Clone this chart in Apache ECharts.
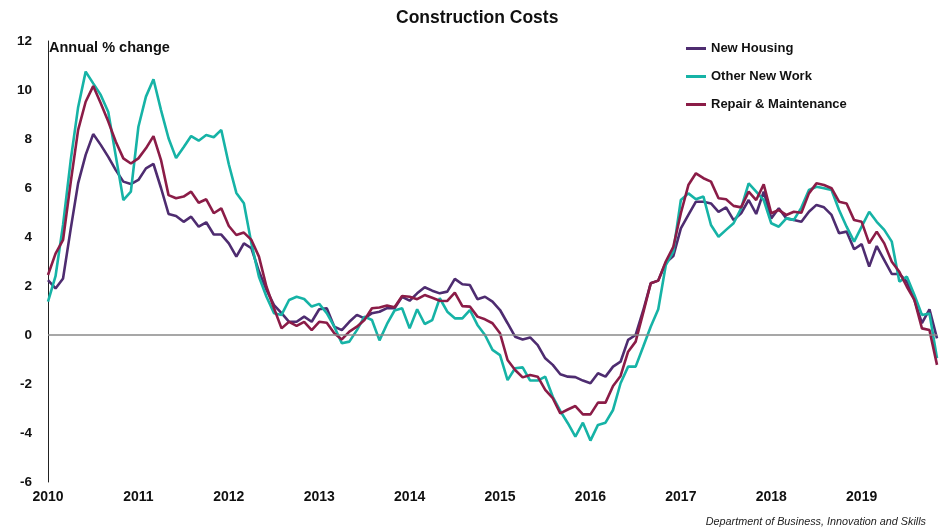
<!DOCTYPE html>
<html lang="en">
<head>
    <meta charset="UTF-8">
    <title>Construction Costs</title>
    <script src="https://cdn.jsdelivr.net/npm/echarts@6/dist/echarts.min.js"></script>
    <style>
        html,body{
            margin: 0;
            height: 100%;
        }
    </style>
</head>
<body>
<!--chart container-->
<div id="main" style="width: 944px;height: 528px"></div>
<script>
    // x axis: monthly from Jan 2010 to Nov 2019, labelled at each January
    var years = ['2010','2011','2012','2013','2014','2015','2016','2017','2018','2019'];
    var monthsInLastYear = 11;

    // annual % change
    var newHousing = [
        2.24, 1.9, 2.31, 4.3, 6.2, 7.35, 8.2, 7.76, 7.27, 6.73, 6.26, 6.16,
        6.33, 6.8, 6.98, 6.0, 4.94, 4.86, 4.62, 4.83, 4.42, 4.6, 4.1, 4.1,
        3.74, 3.2, 3.74, 3.54, 2.6, 1.84, 1.22, 0.89, 0.54, 0.54, 0.75, 0.54,
        1.05, 1.09, 0.34, 0.2, 0.54, 0.82, 0.68, 0.89, 0.95, 1.1, 1.09, 1.56,
        1.4, 1.7, 1.95, 1.81, 1.7, 1.77, 2.29, 2.07, 2.04, 1.46, 1.56, 1.36,
        1.02, 0.48, -0.07, -0.18, -0.1, -0.41, -0.95, -1.22, -1.6, -1.7, -1.72, -1.86,
        -1.97, -1.56, -1.7, -1.29, -1.09, -0.2, 0, 1.0, 2.11, 2.22, 2.95, 3.22,
        4.35, 4.9, 5.44, 5.44, 5.37, 5.03, 5.21, 4.69, 4.97, 5.51, 4.94, 5.85,
        4.76, 5.17, 4.76, 4.69, 4.62, 5.03, 5.31, 5.21, 4.9, 4.15, 4.22, 3.5,
        3.71, 2.79, 3.63, 3.06, 2.49, 2.49, 2.18, 1.43, 0.48, 1.05, -0.14
    ];
    var otherNewWork = [
        1.36, 2.4, 4.5, 7.1, 9.3, 10.75, 10.27, 9.8, 9.1, 7.3, 5.51, 5.85,
        8.5, 9.73, 10.44, 9.18, 8.03, 7.22, 7.66, 8.12, 7.93, 8.16, 8.07, 8.37,
        6.97, 5.8, 5.38, 3.74, 2.38, 1.56, 0.89, 0.82, 1.43, 1.56, 1.47, 1.16,
        1.27, 0.89, 0.34, -0.34, -0.27, 0.2, 0.75, 0.61, -0.22, 0.45, 1.0, 1.09,
        0.27, 1.05, 0.45, 0.61, 1.5, 0.95, 0.68, 0.68, 1.02, 0.41, 0, -0.61,
        -0.82, -1.84, -1.36, -1.32, -1.86, -1.86, -1.7, -2.52, -3.1, -3.6, -4.15, -3.58,
        -4.31, -3.67, -3.58, -3.06, -1.97, -1.29, -1.29, -0.48, 0.34, 1.05, 2.85, 3.4,
        5.51, 5.78, 5.54, 5.65, 4.49, 4.01, 4.29, 4.56, 5.17, 6.19, 5.85, 5.51,
        4.56, 4.42, 4.76, 4.7, 5.2, 5.92, 6.05, 5.99, 5.92, 5.1, 4.42, 3.81,
        4.42, 5.03, 4.62, 4.29, 3.81, 2.18, 2.38, 1.63, 0.82, 0.88, -0.95
    ];
    var repairMaintenance = [
        2.45, 3.32, 3.88, 6.2, 8.37, 9.52, 10.16, 9.46, 8.71, 7.89, 7.21, 7.0,
        7.21, 7.62, 8.12, 7.14, 5.71, 5.58, 5.65, 5.85, 5.4, 5.54, 4.97, 5.17,
        4.45, 4.08, 4.18, 3.88, 3.2, 1.97, 1.09, 0.27, 0.54, 0.37, 0.54, 0.2,
        0.54, 0.5, 0.07, -0.18, 0.14, 0.34, 0.61, 1.09, 1.12, 1.2, 1.13, 1.59,
        1.56, 1.46, 1.63, 1.52, 1.4, 1.39, 1.73, 1.18, 1.16, 0.75, 0.64, 0.48,
        0.07, -1.02, -1.43, -1.73, -1.63, -1.7, -2.24, -2.58, -3.2, -3.04, -2.9, -3.24,
        -3.24, -2.76, -2.76, -2.08, -1.67, -0.68, -0.27, 0.9, 2.11, 2.22, 3.0, 3.6,
        4.97, 6.12, 6.6, 6.4, 6.26, 5.58, 5.54, 5.27, 5.21, 5.85, 5.51, 6.15,
        4.97, 5.1, 4.9, 5.03, 4.99, 5.78, 6.19, 6.12, 5.99, 5.44, 5.37, 4.69,
        4.62, 3.74, 4.22, 3.74, 2.99, 2.58, 1.97, 1.43, 0.27, 0.2, -1.22
    ];

    // month categories built from the year list
    var months = [];
    for (var y = 0; y < years.length; y++) {
        var n = (y === years.length - 1) ? monthsInLastYear : 12;
        for (var m = 1; m <= n; m++) {
            months.push(years[y] + '-' + (m < 10 ? '0' + m : m));
        }
    }

    var myChart = echarts.init(document.getElementById('main'));
    var font = '"Liberation Sans", Arial, sans-serif';

    var option = {
        animation: false,
        backgroundColor: '#ffffff',
        title: [
            {
                text: 'Construction Costs',
                left: 391,
                top: 4,
                textStyle: { fontFamily: font, fontSize: 17.5, fontWeight: 'bold', color: '#111' }
            },
            {
                text: 'Annual % change',
                left: 44,
                top: 35,
                textStyle: { fontFamily: font, fontSize: 14.5, fontWeight: 'bold', color: '#111' }
            }
        ],
        legend: {
            orient: 'vertical',
            left: 681,
            top: 37,
            icon: 'rect',
            itemWidth: 20,
            itemHeight: 3,
            itemGap: 15,
            textStyle: { fontFamily: font, fontSize: 13, fontWeight: 'bold', color: '#111' },
            data: ['New Housing', 'Other New Work', 'Repair & Maintenance']
        },
        grid: { left: 48, right: 7, top: 41, bottom: 46 },
        xAxis: {
            type: 'category',
            data: months,
            boundaryGap: false,
            axisLine: { show: false, onZero: false },
            axisTick: { show: false },
            splitLine: { show: false },
            axisLabel: {
                interval: function (index) { return index % 12 === 0; },
                formatter: function (v) { return v.slice(0, 4); },
                margin: 8,
                fontFamily: font,
                fontSize: 14,
                fontWeight: 'bold',
                color: '#111'
            }
        },
        yAxis: {
            type: 'value',
            min: -6,
            max: 12,
            interval: 2,
            axisLine: { show: true, lineStyle: { color: '#222', width: 1 } },
            axisTick: { show: false },
            splitLine: { show: false },
            axisLabel: {
                margin: 16,
                fontFamily: font,
                fontSize: 13.5,
                fontWeight: 'bold',
                color: '#111'
            }
        },
        series: [
            {
                name: 'New Housing',
                type: 'line',
                data: newHousing,
                showSymbol: false,
                lineStyle: { color: '#4e2c70', width: 2.6 },
                itemStyle: { color: '#4e2c70' },
                markLine: {
                    silent: true,
                    symbol: 'none',
                    label: { show: false },
                    lineStyle: { color: '#8a8a8a', width: 1.5, type: 'solid' },
                    data: [{ yAxis: 0 }]
                }
            },
            {
                name: 'Other New Work',
                type: 'line',
                data: otherNewWork,
                showSymbol: false,
                lineStyle: { color: '#16b3a6', width: 2.6 },
                itemStyle: { color: '#16b3a6' }
            },
            {
                name: 'Repair & Maintenance',
                type: 'line',
                data: repairMaintenance,
                showSymbol: false,
                lineStyle: { color: '#8b1c47', width: 2.6 },
                itemStyle: { color: '#8b1c47' }
            }
        ],
        graphic: [
            {
                type: 'text',
                right: 18,
                top: 516,
                style: {
                    text: 'Department of Business, Innovation and Skills',
                    font: 'italic 10.8px "Liberation Sans", Arial, sans-serif',
                    fill: '#222'
                }
            }
        ]
    };
    myChart.setOption(option);
</script>
</body>
</html>
